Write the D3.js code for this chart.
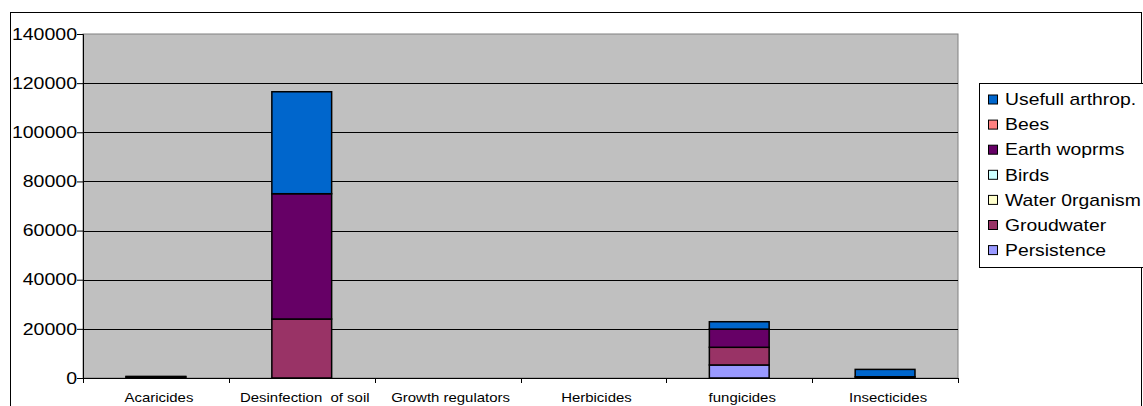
<!DOCTYPE html>
<meta charset="utf-8">
<style>
body { margin: 0; background: #fff; }
text { font-family: 'Liberation Sans', Arial, sans-serif; fill: #000; }
</style>
<script src="https://d3js.org/d3.v7.min.js"></script>
<div id="chart"></div>
<script>
// categories and series (bottom of stack first)
var categories = ["Acaricides", "Desinfection  of soil", "Growth regulators", "Herbicides", "fungicides", "Insecticides"];
var persistence = [0, 0, 0, 0, 5300, 0];
var groudwater = [0, 24000, 0, 0, 7200, 0];
var waterOrganism = [0, 0, 0, 0, 0, 0];
var birds = [0, 0, 0, 0, 0, 0];
var earthWorms = [400, 51000, 0, 0, 7400, 500];
var bees = [0, 0, 0, 0, 0, 0];
var usefulArthrop = [250, 41500, 0, 0, 3000, 3000];
var yTicks = [0, 20000, 40000, 60000, 80000, 100000, 120000, 140000];

var series = [
  {name: "Persistence", color: "#9999FF", values: persistence},
  {name: "Groudwater", color: "#993366", values: groudwater},
  {name: "Water 0rganism", color: "#FFFFCC", values: waterOrganism},
  {name: "Birds", color: "#CCFFFF", values: birds},
  {name: "Earth woprms", color: "#660066", values: earthWorms},
  {name: "Bees", color: "#FF8080", values: bees},
  {name: "Usefull arthrop.", color: "#0066CC", values: usefulArthrop}
];

var W = 1143, H = 406;
var plot = {left: 83, top: 34, right: 958, bottom: 378};

var svg = d3.select("#chart").append("svg")
  .attr("width", W).attr("height", H);

// outer chart frame
svg.append("rect")
  .attr("x", 10.5).attr("y", 12.5)
  .attr("width", 1131).attr("height", 420)
  .attr("fill", "#fff").attr("stroke", "#000");

var x = d3.scaleBand().domain(categories).range([plot.left, plot.right]).padding(0);
var y = d3.scaleLinear().domain([0, 140000]).range([plot.bottom, plot.top]);

// plot area
svg.append("rect")
  .attr("x", plot.left).attr("y", plot.top)
  .attr("width", plot.right - plot.left).attr("height", plot.bottom - plot.top)
  .attr("fill", "#C0C0C0").attr("stroke", "#808080");

// gridlines
svg.append("g").selectAll("line")
  .data(yTicks.filter(function(d) { return d > 0 && d < 140000; }))
  .enter().append("line")
    .attr("x1", plot.left).attr("x2", plot.right)
    .attr("y1", function(d) { return Math.round(y(d)) + 0.5; })
    .attr("y2", function(d) { return Math.round(y(d)) + 0.5; })
    .attr("stroke", "#000").attr("stroke-width", 1);

// stacked bars
var table = categories.map(function(c, i) {
  var row = {cat: c};
  series.forEach(function(s) { row[s.name] = s.values[i]; });
  return row;
});
var stack = d3.stack().keys(series.map(function(s) { return s.name; }))(table);
var barW = x.bandwidth() * 0.41;

svg.append("g").selectAll("g")
  .data(stack)
  .enter().append("g")
    .attr("fill", function(d, i) { return series[i].color; })
  .selectAll("rect")
  .data(function(d) { return d.filter(function(p) { return p[1] - p[0] > 0; }); })
  .enter().append("rect")
    .attr("x", function(d) { return x(d.data.cat) + (x.bandwidth() - barW) / 2; })
    .attr("y", function(d) { return y(d[1]); })
    .attr("width", barW)
    .attr("height", function(d) { return y(d[0]) - y(d[1]); })
    .attr("stroke", "#000").attr("stroke-width", 1.5);

// y axis
var yAxis = svg.append("g")
  .attr("transform", "translate(" + plot.left + ",0)")
  .call(d3.axisLeft(y).tickValues(yTicks).tickSize(6).tickFormat(""));
yAxis.select(".domain").attr("stroke", "#000");

svg.append("g").selectAll("text")
  .data(yTicks)
  .enter().append("text")
    .attr("transform", function(d) { return "translate(77," + y(d) + ") scale(1.22,1)"; })
    .attr("text-anchor", "end")
    .attr("dy", "0.36em")
    .style("font-size", "16px")
    .text(function(d) { return d; });

// x axis
svg.append("line")
  .attr("x1", plot.left).attr("x2", plot.right)
  .attr("y1", plot.bottom + 0.5).attr("y2", plot.bottom + 0.5)
  .attr("stroke", "#000");
var bounds = categories.map(function(c) { return x(c); }).concat([x.range()[1]]);
svg.append("g").selectAll("line")
  .data(bounds)
  .enter().append("line")
    .attr("x1", function(d) { return Math.round(d) + 0.5; })
    .attr("x2", function(d) { return Math.round(d) + 0.5; })
    .attr("y1", plot.bottom).attr("y2", plot.bottom + 5)
    .attr("stroke", "#000");

svg.append("g").selectAll("text")
  .data(categories)
  .enter().append("text")
    .attr("transform", function(d) { return "translate(" + (x(d) + x.bandwidth() / 2 + 3) + ",402) scale(1.15,1)"; })
    .attr("text-anchor", "middle")
    .style("font-size", "13px")
    .style("white-space", "pre")
    .attr("xml:space", "preserve")
    .text(function(d) { return d; });

// legend
var legend = svg.append("g");
legend.append("rect")
  .attr("x", 979.5).attr("y", 83.5)
  .attr("width", 170).attr("height", 184)
  .attr("fill", "#fff").attr("stroke", "#000");

var items = legend.selectAll("g.item")
  .data(series.slice().reverse())
  .enter().append("g")
    .attr("transform", function(d, i) { return "translate(988," + (99.5 + i * 25.1) + ")"; });
items.append("rect")
  .attr("x", 0.5).attr("y", -4.5)
  .attr("width", 9).attr("height", 9)
  .attr("fill", function(d) { return d.color; })
  .attr("stroke", "#000");
items.append("text")
  .attr("transform", "translate(17,0) scale(1.21,1)")
  .attr("dy", "0.36em")
  .style("font-size", "16px")
  .text(function(d) { return d.name; });
</script>
